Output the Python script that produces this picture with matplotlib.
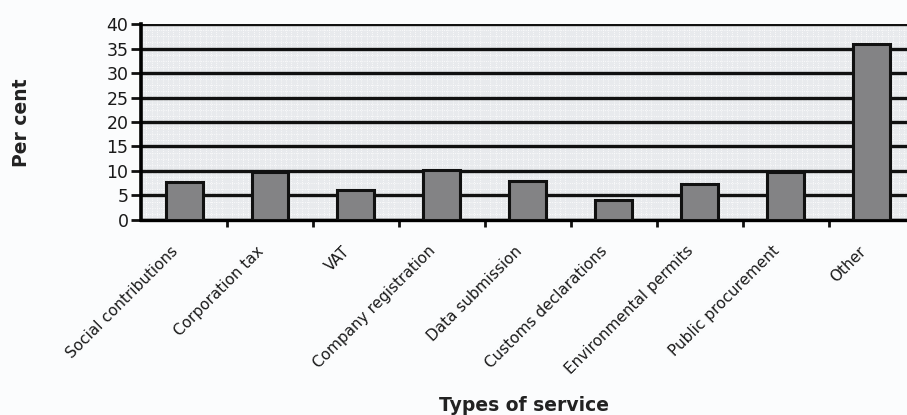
import numpy as np
import matplotlib.pyplot as plt

# Share of firms by type of service
services = ['Social contributions', 'Corporation tax', 'VAT', 'Company registration',
            'Data submission', 'Customs declarations', 'Environmental permits',
            'Public procurement', 'Other']
percent = [7.7, 9.8, 6.1, 10.2, 8.0, 4.0, 7.3, 9.8, 35.9]
yticks = [0, 5, 10, 15, 20, 25, 30, 35, 40]

plt.rcParams['font.family'] = ['DejaVu Sans']

fig = plt.figure(figsize=(9.07, 4.15), dpi=100)
fig.patch.set_facecolor('#fbfcfd')
ax = fig.add_axes([0.1555, 0.47, 0.853, 0.472])
ax.set_facecolor('#e8eaed')

x = np.arange(len(services))
ax.bar(x, percent, width=0.43, color='#838385', edgecolor='#111111', linewidth=2.2, zorder=3)

ax.set_xlim(-0.5, len(services) - 0.5)
ax.set_ylim(0, 40)
ax.set_yticks(yticks)
ax.set_yticklabels([str(t) for t in yticks], fontsize=12.5, color='#1a1a1a')

# fine dotted background pattern
ax.set_yticks(np.arange(0, 40, 1.25), minor=True)
ax.set_xticks(np.arange(-0.5, len(services) - 0.5, 0.0625), minor=True)
ax.grid(which='minor', color='white', linestyle=':', linewidth=0.6, zorder=0)
ax.tick_params(which='minor', length=0)
ax.yaxis.grid(True, which='major', color='#111111', linewidth=2.4, zorder=2)

# category labels sit between the boundary ticks
ax.set_xticks(np.arange(0.5, len(services) - 0.5, 1.0))
ax.set_xticklabels([])
for xi, name in zip(x, services):
    ax.text(xi - 0.16, -4.8, name, rotation=45, ha='right', va='top',
            rotation_mode='anchor', fontsize=11, color='#1a1a1a')

ax.tick_params(axis='y', direction='out', length=7, width=2, color='#111111', pad=2)
ax.tick_params(axis='x', direction='out', length=5, width=2, color='#111111')

for side in ['top', 'right']:
    ax.spines[side].set_visible(False)
ax.spines['left'].set_linewidth(2.6)
ax.spines['bottom'].set_linewidth(2.4)
ax.spines['left'].set_zorder(4)

fig.text(0.024, 0.705, 'Per cent', rotation=90, ha='center', va='center',
         fontsize=13.5, fontweight='bold', color='#222222')
fig.text(0.578, 0.023, 'Types of service', ha='center', va='center',
         fontsize=13.5, fontweight='bold', color='#222222')

plt.savefig('out.png', dpi=100, facecolor=fig.get_facecolor())
